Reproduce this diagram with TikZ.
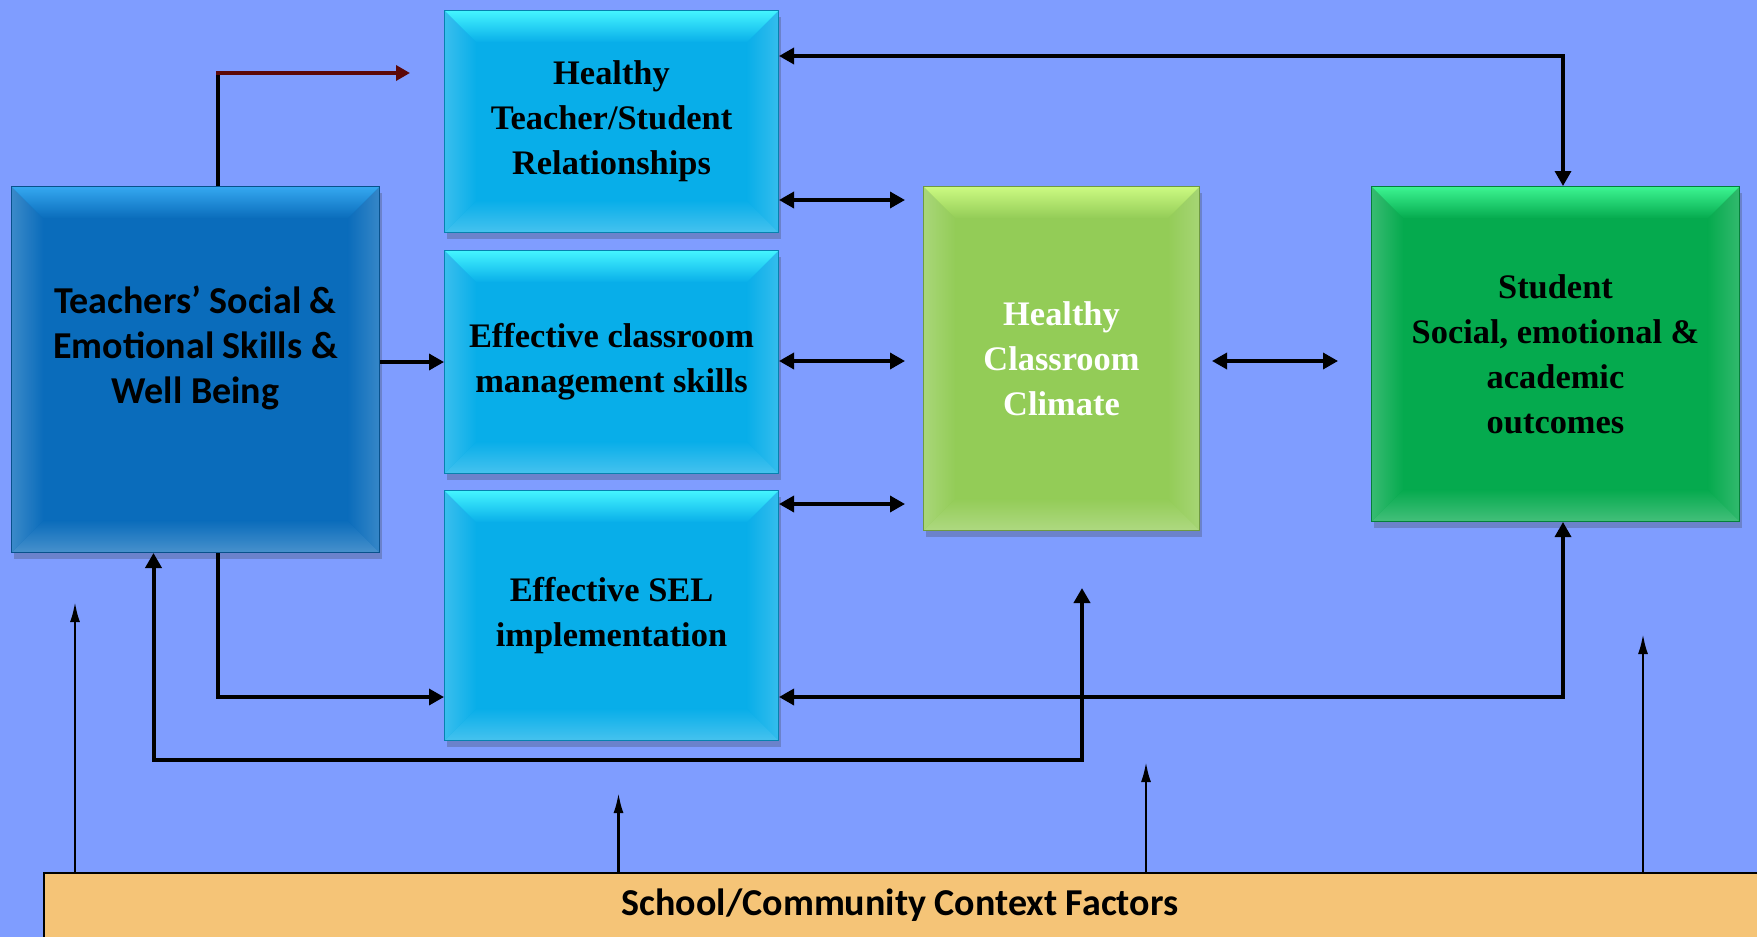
\documentclass[tikz,border=0pt]{standalone}
\usepackage{fontspec}
\setmainfont{Liberation Serif}
\newfontfamily\calibri{Carlito}
\usetikzlibrary{arrows.meta,shadows}

\definecolor{bgblue}{HTML}{7F9DFF}
\definecolor{navyA}{HTML}{0A6CBB}
\definecolor{navyT}{HTML}{35A8F0}
\definecolor{cyanA}{HTML}{08AEE9}
\definecolor{cyanT}{HTML}{45F5FF}
\definecolor{limeA}{HTML}{93CC57}
\definecolor{limeT}{HTML}{CCFA82}
\definecolor{grnA}{HTML}{05AA4E}
\definecolor{grnT}{HTML}{3DF592}
\definecolor{sand}{HTML}{F5C477}
\definecolor{darkred}{HTML}{5C0808}

\tikzset{
  % beveled box: #1 face colour, #2 light top bevel colour
  bevelbox/.style 2 args={
    draw=#1!75!black, line width=0.5pt, fill=#1, inner sep=0pt, anchor=north west,
    drop shadow={shadow xshift=1pt, shadow yshift=-3pt, opacity=0.25, fill=black!80},
    path picture={
      \coordinate (@nw) at (path picture bounding box.north west);
      \coordinate (@ne) at (path picture bounding box.north east);
      \coordinate (@sw) at (path picture bounding box.south west);
      \coordinate (@se) at (path picture bounding box.south east);
      \shade[left color=#1!80!white, right color=#1]
        (@nw) -- (@sw) -- ([shift={(16pt,16pt)}]@sw) -- ([shift={(16pt,-16pt)}]@nw) -- cycle;
      \shade[left color=#1, right color=#1!82!white]
        (@ne) -- (@se) -- ([shift={(-16pt,16pt)}]@se) -- ([shift={(-16pt,-16pt)}]@ne) -- cycle;
      \shade[top color=#1, bottom color=#1!75!white]
        (@sw) -- (@se) -- ([shift={(-16pt,16pt)}]@se) -- ([shift={(16pt,16pt)}]@sw) -- cycle;
      \shade[top color=#2, bottom color=#1]
        (@nw) -- (@ne) -- ([shift={(-16pt,-16pt)}]@ne) -- ([shift={(16pt,-16pt)}]@nw) -- cycle;
    }
  },
  serif/.style={align=center, font=\bfseries\fontsize{17.2}{22.5}\selectfont},
  sans/.style={align=center, font=\calibri\bfseries\fontsize{19}{22.5}\selectfont},
  conn/.style={line width=1.7pt, -{Triangle[length=7.5pt,width=8pt]}},
  dconn/.style={line width=1.7pt, {Triangle[length=7.5pt,width=8pt]}-{Triangle[length=7.5pt,width=8pt]}},
  ctxarrow/.style={line width=1.2pt, -{Latex[length=10pt,width=5pt]}},
}

\begin{document}
\begin{tikzpicture}[x=0.5pt, y=-0.5pt]
  \useasboundingbox (0,0) rectangle (1757,937);
  \fill[bgblue] (0,0) rectangle (1757,937);

  % boxes
  \node[bevelbox={navyA}{navyT}, minimum width=184pt, minimum height=183pt] (teach) at (11,186) {};
  \node[sans] (teachtxt) at ([yshift=11pt]teach.center) {Teachers’ Social \&\\Emotional Skills \&\\Well Being};

  \node[bevelbox={cyanA}{cyanT}, minimum width=167pt, minimum height=111pt, serif] (rel) at (444,10)
    {Healthy\\Teacher/Student\\Relationships};
  \node[bevelbox={cyanA}{cyanT}, minimum width=167pt, minimum height=111.5pt, serif] (mgmt) at (444,250)
    {Effective classroom\\management skills};
  \node[bevelbox={cyanA}{cyanT}, minimum width=167pt, minimum height=125pt, serif] (sel) at (444,490)
    {Effective SEL\\implementation};
  \node[bevelbox={limeA}{limeT}, minimum width=138pt, minimum height=172pt, serif, text=white] (clim) at (923,186)
    {Healthy\\Classroom\\Climate};
  \node[bevelbox={grnA}{grnT}, minimum width=184pt, minimum height=167.5pt, serif] (stud) at (1371,186)
    {Student\\Social, emotional \&\\academic\\outcomes};

  \node[draw=black, line width=1pt, fill=sand, anchor=north west, inner sep=0pt,
        minimum width=860pt, minimum height=35pt] (ctx) at (43,872) {};
  \node[sans] (ctxtxt) at (900,905) {School/Community Context Factors};

  % connector end points
  \coordinate (kneeA) at (218,73);
  \coordinate (relin) at (410,73);
  \coordinate (climA) at (905,200);
  \coordinate (climB) at (905,361);
  \coordinate (climC) at (905,504);
  \coordinate (climR) at (1212,361);
  \coordinate (studL) at (1338,361);
  \coordinate (topknee) at (1563,56);
  \coordinate (botknee) at (1563,697);
  \coordinate (selknee) at (218,697);
  \coordinate (climbot) at (1082,588);
  \coordinate (loopR) at (1082,760);
  \coordinate (loopL) at (153.5,760);
  \coordinate (k1) at (75,602);
  \coordinate (k2) at (618.5,793);
  \coordinate (k3) at (1146,762);
  \coordinate (k4) at (1643,634);

  % connectors
  \draw[line width=1.7pt] (teach.north -| kneeA) -- ([yshift=-0.85pt]kneeA);
  \draw[line width=1.7pt, darkred, -{Triangle[length=7pt,width=7.5pt]}] ([xshift=-0.85pt]kneeA) -- (relin);
  \draw[conn] (teach.east |- mgmt.west) -- (mgmt.west);
  \draw[dconn] (rel.east |- climA) -- (climA);
  \draw[dconn] (mgmt.east |- climB) -- (climB);
  \draw[dconn] (sel.east |- climC) -- (climC);
  \draw[dconn] (climR) -- (studL);
  \draw[dconn] (rel.east |- topknee) -| (stud.north -| topknee);
  \draw[dconn] (stud.south -| botknee) |- (sel.east |- botknee);
  \draw[conn] (teach.south -| selknee) |- (sel.west |- selknee);
  \draw[dconn, line width=2pt] (climbot) -- (loopR) -- (loopL) -- (teach.south -| loopL);

  % context influences
  \draw[ctxarrow] (ctx.north -| k1) -- (k1);
  \draw[ctxarrow] (ctx.north -| k2) -- (k2);
  \draw[ctxarrow] (ctx.north -| k3) -- (k3);
  \draw[ctxarrow] (ctx.north -| k4) -- (k4);
\end{tikzpicture}
\end{document}
